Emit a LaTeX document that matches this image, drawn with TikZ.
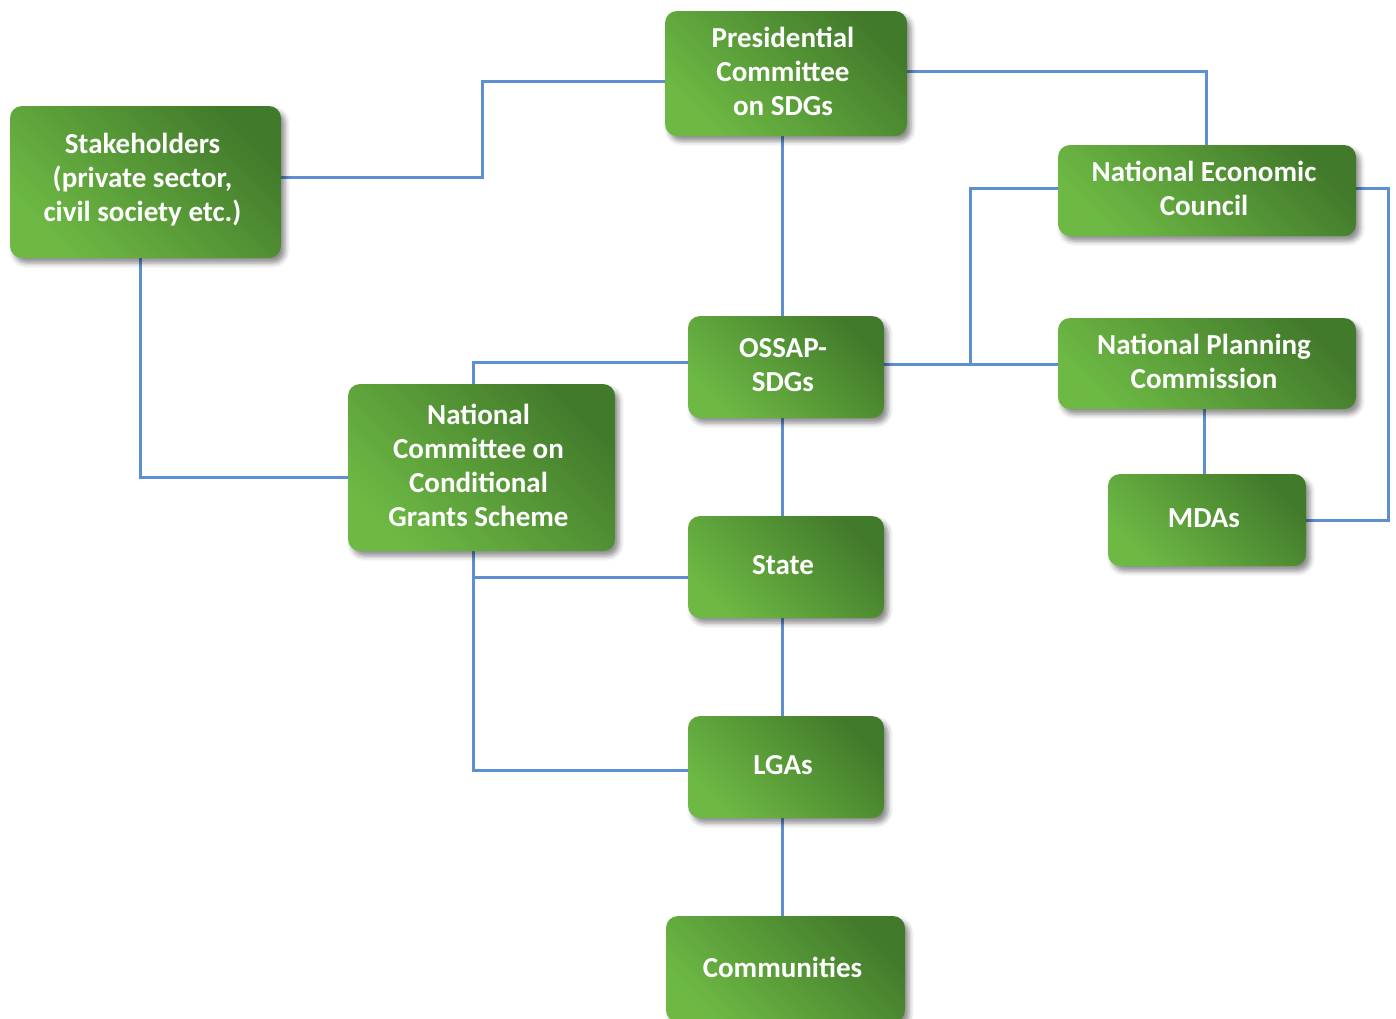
\documentclass[tikz,border=0pt]{standalone}
\usepackage{fontspec}
\setmainfont{Carlito}
\usetikzlibrary{shadows.blur,backgrounds,calc}
\definecolor{lightg}{HTML}{6DB944}
\definecolor{darkg}{HTML}{427A2B}
\definecolor{linkblue}{HTML}{5E8FD0}
\tikzset{
  orgbox/.style={rounded corners=12pt, top color=lightg, bottom color=darkg, shading angle=135,
    blur shadow={shadow xshift=4pt, shadow yshift=-5pt, shadow blur radius=5pt, shadow opacity=45},
    inner sep=0pt},
  boxtext/.style={text=white, font=\bfseries\fontsize{29}{34}\selectfont, align=center, inner sep=0pt, xshift=-3pt, yshift=2pt},
  link/.style={draw=linkblue, line width=3pt},
}
\newcommand{\obox}[6]{%
  \node[orgbox, minimum width=#4-#2, minimum height=#5-#3,
    label={[boxtext]center:{#6}}] (#1) at ({(#2+#4)/2},{(#3+#5)/2}) {};}
\begin{document}
\begin{tikzpicture}[x=1pt,y=-1pt]
\useasboundingbox (0,0) rectangle (1396,1018);
\obox{pres}{665}{11}{907}{136}{Presidential\\Committee\\on SDGs}
\obox{stake}{10}{106}{281}{258}{Stakeholders\\(private sector,\\civil society etc.)}
\obox{nec}{1058}{145}{1356}{236}{National Economic\\Council}
\obox{npc}{1058}{318}{1356}{409}{National Planning\\Commission}
\obox{mdas}{1108}{474}{1306}{566}{MDAs}
\obox{ossap}{688}{316}{884}{418}{OSSAP-\\SDGs}
\obox{nccgs}{348}{384}{615}{551}{National\\Committee on\\Conditional\\Grants Scheme}
\obox{state}{688}{516}{884}{618}{State}
\obox{lgas}{688}{716}{884}{818}{LGAs}
\obox{comm}{666}{916}{905}{1022}{Communities}
\begin{scope}[on background layer]
\draw[link] (pres.west |- 0,81) -- (482,81) -- (482,177) -- (stake.east |- 0,177);
\draw[link] (pres.east |- 0,71) -- (1206,71) -- (nec.north -| 1206,0);
\draw[link] (pres.south -| 782,0) -- (ossap.north -| 782,0);
\draw[link] (ossap.west |- 0,362) -- (473,362) -- (nccgs.north -| 473,0);
\draw[link] (ossap.east |- 0,364) -- (npc.west |- 0,364);
\draw[link] (970,364) -- (970,188) -- (nec.west |- 0,188);
\draw[link] (nec.east |- 0,188) -- (1388,188) -- (1388,520) -- (mdas.east |- 0,520);
\draw[link] (npc.south -| 1204,0) -- (mdas.north -| 1204,0);
\draw[link] (ossap.south -| 782,0) -- (state.north -| 782,0);
\draw[link] (state.south -| 782,0) -- (lgas.north -| 782,0);
\draw[link] (lgas.south -| 782,0) -- (comm.north -| 782,0);
\draw[link] (stake.south -| 140,0) -- (140,477) -- (nccgs.west |- 0,477);
\draw[link] (nccgs.south -| 473,0) -- (473,770) -- (lgas.west |- 0,770);
\draw[link] (473,577) -- (state.west |- 0,577);
\end{scope}
\end{tikzpicture}
\end{document}
